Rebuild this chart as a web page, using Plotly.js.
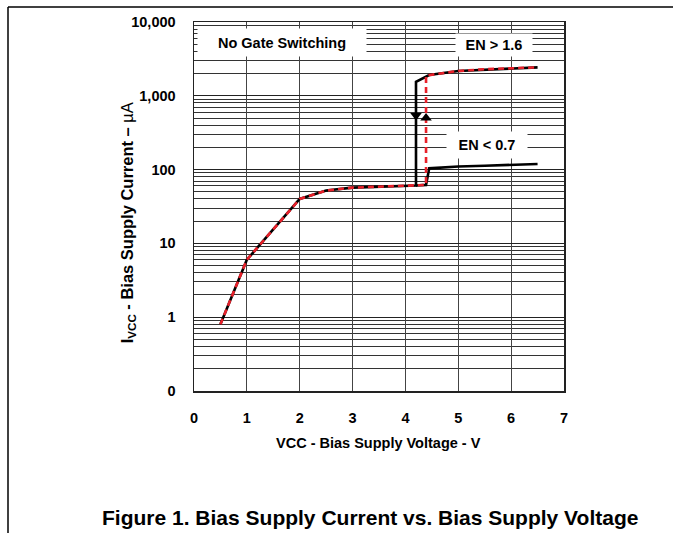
<!DOCTYPE html>
<html>
<head>
<meta charset="utf-8">
<script src="https://cdn.plot.ly/plotly-3.0.1.min.js"></script>
<style>html,body{margin:0;padding:0;background:#fff;}#chart{width:673px;height:533px;}</style>
</head>
<body>
<div id="chart"></div>
<script>
// EN > 1.6, sweeping down (black solid)
const enHighDownV = [6.5, 6.0, 5.5, 5.0, 4.45, 4.2, 4.2, 3.0, 2.5, 2.0, 1.0, 0.5];
const enHighDownI = [2430, 2340, 2290, 2170, 1910, 1550, 61, 57, 52, 40, 6, 0.8];
// EN > 1.6, sweeping up (red dashed)
const enHighUpV = [0.5, 1.0, 2.0, 2.5, 3.0, 4.2, 4.39, 4.39, 4.45, 5.0, 5.5, 6.0, 6.5];
const enHighUpI = [0.8, 6, 40, 52, 57, 61, 62, 1880, 1910, 2170, 2290, 2340, 2430];
// EN < 0.7 (black solid)
const enLowV = [4.2, 4.39, 4.45, 5.0, 5.5, 6.0, 6.5];
const enLowI = [61, 62, 104, 110, 113, 116, 119];
// Direction arrows
const arrowDownV = [4.2], arrowDownI = [540];
const arrowUpV = [4.39], arrowUpI = [500];

const yTickVals = [0.1, 1, 10, 100, 1000, 10000];
const yTickText = ['0', '1', '10', '100', '1,000', '10,000'];
const xTickVals = [0, 1, 2, 3, 4, 5, 6, 7];

const F = 'Arial, "Liberation Sans", Helvetica, sans-serif';
const FS = 14.5;

const traces = [
  {x: enHighDownV, y: enHighDownI, mode: 'lines', line: {color: '#000', width: 2.6}, hoverinfo: 'skip'},
  {x: enLowV, y: enLowI, mode: 'lines', line: {color: '#000', width: 2.6}, hoverinfo: 'skip'},
  {x: enHighUpV, y: enHighUpI, mode: 'lines', line: {color: '#e8202a', width: 2.6, dash: '6px,4px'}, hoverinfo: 'skip'},
  {x: arrowDownV, y: arrowDownI, mode: 'markers', marker: {symbol: 'triangle-down', size: 10, color: '#000'}, hoverinfo: 'skip'},
  {x: arrowUpV, y: arrowUpI, mode: 'markers', marker: {symbol: 'triangle-up', size: 10, color: '#000'}, hoverinfo: 'skip'}
];

const boxFont = {family: F, size: FS, color: '#000'};

const layout = {
  width: 673, height: 533,
  margin: {l: 194, r: 109, t: 22, b: 142},
  paper_bgcolor: '#fff', plot_bgcolor: '#fff',
  showlegend: false,
  font: {family: F, color: '#000'},
  xaxis: {
    range: [0, 7], tickvals: xTickVals, ticks: '', showgrid: true,
    gridcolor: '#444', gridwidth: 1.2, zeroline: false,
    showline: true, linecolor: '#222', linewidth: 1.5, mirror: true,
    tickfont: {family: F, size: FS, weight: 'bold', color: '#000'},
    ticklabelstandoff: 13, fixedrange: true
  },
  yaxis: {
    type: 'log', range: [-1, 4], tickvals: yTickVals, ticktext: yTickText, ticks: '',
    showgrid: true, gridcolor: '#222', gridwidth: 1.2, zeroline: false,
    showline: true, linecolor: '#222', linewidth: 1.5, mirror: true,
    tickfont: {family: F, size: FS, weight: 'bold', color: '#000'},
    ticklabelstandoff: 14,
    minor: {dtick: 'D1', showgrid: true, gridcolor: '#333', gridwidth: 1, ticks: ''},
    fixedrange: true
  },
  annotations: [
    {x: 1.665, y: 3.729, xref: 'x', yref: 'y', text: '<b>No Gate Switching</b>', showarrow: false,
     xanchor: 'center', yanchor: 'middle', bgcolor: '#fff', width: 166, height: 25, font: boxFont},
    {x: 5.68, y: 3.69, xref: 'x', yref: 'y', text: '<b>EN > 1.6</b>', showarrow: false,
     xanchor: 'center', yanchor: 'middle', bgcolor: '#fff', width: 74, height: 20, font: boxFont},
    {x: 5.55, y: 2.333, xref: 'x', yref: 'y', text: '<b>EN < 0.7</b>', showarrow: false,
     xanchor: 'center', yanchor: 'middle', bgcolor: '#fff', width: 78, height: 24, font: boxFont},
    {x: 0.4986, y: -0.141, xref: 'paper', yref: 'paper', text: '<b>VCC - Bias Supply Voltage - V</b>',
     xanchor: 'center', yanchor: 'middle', showarrow: false, font: {family: F, size: FS, color: '#000'}},
    {x: -0.178, y: 0.455, xref: 'paper', yref: 'paper',
     text: '<b>I<sub>VCC</sub> - Bias Supply Current – </b>µA',
     xanchor: 'center', yanchor: 'middle',
     textangle: -90, showarrow: false, font: {family: F, size: 16.5, color: '#000'}},
    {x: 0.4757, y: -0.344, xref: 'paper', yref: 'paper',
     text: '<b>Figure 1. Bias Supply Current vs. Bias Supply Voltage</b>',
     xanchor: 'center', yanchor: 'middle',
     showarrow: false, font: {family: F, size: 21, color: '#000'}}
  ],
  shapes: [
    {type: 'line', xref: 'paper', yref: 'paper', x0: -0.5027, x1: 1.30, y0: 1.0407, y1: 1.0407, line: {color: '#000', width: 1.5}},
    {type: 'line', xref: 'paper', yref: 'paper', x0: -0.5027, x1: -0.5027, y0: 1.0407, y1: -0.40, line: {color: '#000', width: 1.5}}
  ]
};

Plotly.newPlot('chart', traces, layout, {staticPlot: true, displayModeBar: false});
</script>
</body>
</html>
